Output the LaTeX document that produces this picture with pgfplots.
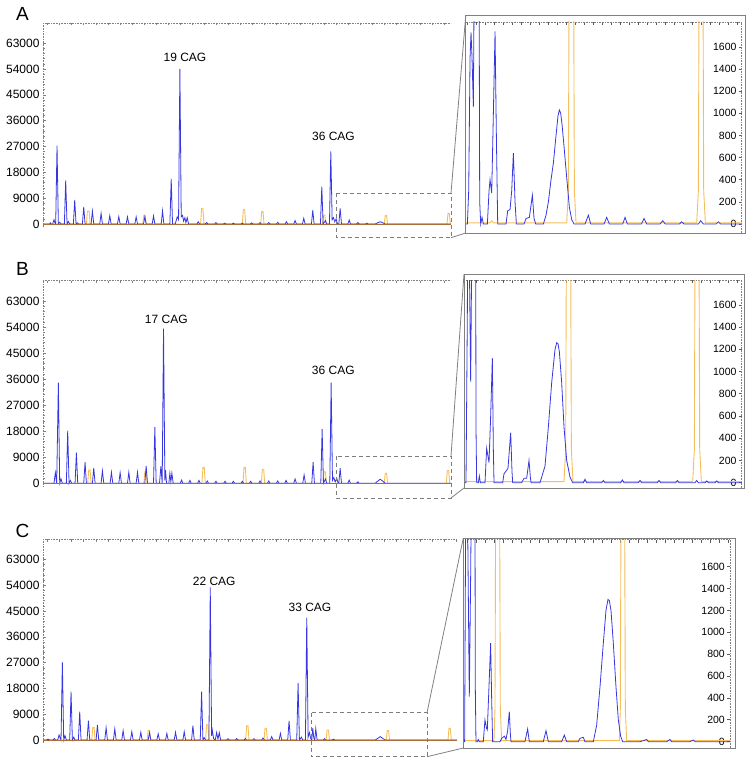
\documentclass[border=0pt]{standalone}
\usepackage{fontspec}
\setmainfont{Liberation Sans}
\usepackage{pgfplots}
\pgfplotsset{compat=1.18}
\definecolor{bl}{RGB}{55,55,225}
\definecolor{orl}{RGB}{245,190,90}
\definecolor{brn}{RGB}{170,110,60}
\definecolor{frm}{RGB}{128,128,128}
\definecolor{dsh}{RGB}{125,125,125}
\pgfplotsset{
 mainax/.style={scale only axis, anchor=north west, width=#1pt, xmin=130, ymin=-1000, ymax=70000,
   axis x line*=top, axis y line*=left, axis line style={frm, densely dotted, line width=0.6pt},
   xtick distance=36, xticklabels={}, ytick={0,9000,...,63000}, scaled y ticks=false,
   yticklabels={0,9000,18000,27000,36000,45000,54000,63000}, minor y tick num=4,
   tick align=inside, major tick length=2.5pt, minor tick length=1.5pt, tick style={frm, line width=0.5pt},
   yticklabel style={font=\fontsize{12}{13}\selectfont}},
 insetax/.style={scale only axis, anchor=north west,
   axis x line*=top, axis y line*=right, axis line style={frm, densely dotted, line width=0.6pt},
   xtick distance=27, xticklabels={}, ytick={0,200,...,1600}, scaled y ticks=false,
   yticklabels={0,200,400,600,800,1000,1200,1400,1600},
   tick align=inside, major tick length=3pt, tick style={frm!70!black, line width=0.6pt},
   yticklabel style={font=\fontsize{10.5}{12}\selectfont, anchor=east, inner sep=0pt, xshift=-5pt}},
 bline/.style={bl, line width=0.8pt, mark=none},
 oline/.style={orl, line width=0.9pt, mark=none},
}
\begin{document}
\begin{tikzpicture}[x=1pt,y=1pt]
\useasboundingbox (0,0) rectangle (750,-760);

% ================= A main =================
\begin{axis}[mainax=408, at={(43pt,-23pt)}, height=203.9pt, xmax=1352]
\addplot[oline] coordinates {(130,0)(260,0)(263,4500)(268,4500)(271,0)(429,0)(432,3100)(436,3100)(439,0)(602,0)(605,5400)(609,5400)(612,0)(727,0)(730,5000)(734,5000)(737,0)(782,0)(785,4300)(789,4300)(792,0)(967,0)(970,3100)(974,3100)(977,0)(1152,0)(1155,2900)(1159,2900)(1162,0)(1340,0)(1343,3700)(1347,3700)(1350,0)(1352,0)};
\addplot[bline] coordinates {(130,0)(150,0)(152,400)(154,0)(159,0)(163,1500)(166,300)(168,0)(172,27300)(176,0)(180,600)(185,0)(194,0)(198,15200)(202,0)(206,900)(210,0)(221,0)(225,8400)(229,0)(233,400)(237,0)(248,0)(252,6000)(256,0)(274,0)(278,4500)(282,0)(300,0)(304,3700)(308,0)(326,0)(330,2900)(334,0)(353,0)(357,2600)(361,0)(379,0)(383,2500)(387,0)(405,0)(409,2500)(413,0)(431,0)(435,2500)(439,0)(457,0)(461,2800)(465,0)(484,0)(488,4600)(492,0)(510,0)(514,15700)(518,0)(526,0)(532,2500)(536,1500)(540,54000)(544,2500)(548,3000)(551,1000)(555,2200)(558,500)(562,2200)(566,0)(591,0)(595,800)(599,0)(616,0)(620,500)(624,0)(644,0)(648,500)(652,0)(670,0)(674,300)(678,0)(696,0)(700,300)(704,0)(723,0)(727,300)(731,0)(751,0)(755,400)(759,0)(776,0)(780,500)(784,0)(802,0)(806,500)(810,0)(829,0)(833,600)(837,0)(855,0)(859,800)(863,0)(881,0)(885,1200)(889,0)(907,0)(911,2000)(915,0)(934,0)(938,4800)(942,0)(961,0)(965,13000)(969,0)(976,1200)(980,0)(988,0)(992,25300)(996,1500)(1000,2200)(1004,800)(1008,1800)(1012,0)(1016,0)(1020,5400)(1024,0)(1043,0)(1047,1400)(1051,0)(1069,0)(1073,500)(1077,0)(1096,0)(1100,300)(1104,0)(1125,0)(1132,400)(1140,800)(1148,400)(1155,0)(1352,0)};
\addplot[brn, line width=0.9pt, mark=none] coordinates {(130,0)(1352,0)};
\end{axis}

% ================= A inset =================
\begin{axis}[insetax, at={(465.7pt,-22pt)}, width=276pt, height=211pt, xmin=77, xmax=905, ymin=-81, ymax=1825]
\addplot[oline] coordinates {(77,10)(150,10)(155,30)(160,10)(380,10)(385,300)(388,3000)(400,3000)(403,300)(408,10)(770,10)(775,300)(778,3000)(788,3000)(791,300)(796,10)(905,10)};
\addplot[bline] coordinates {(77,0)(82,0)(86,300)(90,1500)(93,1730)(96,1500)(100,1060)(103,2500)(106,4000)(114,4000)(117,2500)(119,200)(122,0)(126,60)(130,0)(142,0)(147,300)(150,400)(155,280)(160,1000)(165,1740)(169,800)(173,0)(198,0)(203,120)(210,130)(215,300)(220,640)(225,200)(229,0)(252,0)(258,50)(268,60)(277,260)(282,50)(287,0)(310,0)(318,80)(325,200)(333,400)(340,550)(348,800)(354,980)(358,1030)(362,1000)(366,900)(372,700)(380,420)(388,150)(395,40)(402,0)(435,0)(445,80)(452,0)(492,0)(500,60)(508,0)(548,0)(555,60)(562,0)(604,0)(612,50)(620,0)(660,0)(668,30)(676,0)(718,0)(725,20)(732,0)(775,0)(782,30)(790,0)(828,0)(835,20)(842,0)(905,0)};
\end{axis}

% ================= B main =================
\begin{axis}[mainax=408, at={(43pt,-280.7pt)}, height=205.5pt, xmax=1352]
\addplot[oline] coordinates {(130,0)(264,0)(267,4600)(271,4600)(274,0)(432,0)(435,4000)(439,4000)(442,0)(606,0)(609,5500)(613,5500)(616,0)(729,0)(732,5500)(736,5500)(739,0)(784,0)(787,4850)(791,4850)(794,0)(969,0)(972,4000)(976,4000)(979,0)(1152,0)(1155,3460)(1159,3460)(1162,0)(1338,0)(1341,4400)(1345,4400)(1348,0)(1352,0)};
\addplot[bline] coordinates {(130,0)(163,0)(167,3700)(171,0)(176,34800)(180,0)(184,1500)(188,0)(200,0)(204,18200)(208,0)(212,1000)(216,0)(226,0)(230,10600)(234,0)(252,0)(256,7300)(260,0)(278,0)(282,5300)(286,0)(304,0)(308,4300)(312,0)(331,0)(335,3800)(339,0)(357,0)(361,3700)(365,0)(383,0)(387,3800)(391,0)(409,0)(413,3800)(417,0)(435,0)(439,6000)(443,0)(461,0)(465,19400)(469,0)(479,0)(483,5800)(487,0)(491,53400)(495,1000)(497,4600)(500,0)(507,0)(510,3500)(513,500)(516,3500)(520,0)(541,0)(545,1100)(549,0)(566,0)(570,1000)(574,0)(593,0)(597,1000)(601,0)(618,0)(622,800)(626,0)(644,0)(648,700)(652,0)(671,0)(675,700)(679,0)(696,0)(700,700)(704,0)(723,0)(727,700)(731,0)(748,0)(752,700)(756,0)(776,0)(780,800)(784,0)(802,0)(806,800)(810,0)(829,0)(833,800)(837,0)(854,0)(858,1000)(862,0)(881,0)(885,1500)(889,0)(908,0)(912,2900)(916,0)(935,0)(939,7300)(943,0)(962,0)(966,18700)(970,0)(976,1500)(980,0)(989,0)(993,34800)(997,1000)(1001,2000)(1005,500)(1010,1700)(1014,0)(1016,0)(1020,5200)(1024,0)(1043,0)(1047,1100)(1051,0)(1069,0)(1073,500)(1077,0)(1125,0)(1132,700)(1140,1400)(1148,700)(1155,0)(1352,0)};
\addplot[brn, line width=0.9pt, mark=none] coordinates {(130,0)(1352,0)};
\end{axis}

% ================= B inset =================
\begin{axis}[insetax, at={(464pt,-280pt)}, width=277.7pt, height=208pt, xmin=72, xmax=905, ymin=-48, ymax=1824]
\addplot[oline] coordinates {(72,10)(372,10)(377,300)(380,3000)(391,3000)(394,300)(399,10)(758,10)(763,300)(766,3000)(776,3000)(779,300)(784,10)(905,10)};
\addplot[bline] coordinates {(72,0)(78,0)(82,1500)(85,4000)(88,2000)(92,909)(95,2000)(98,4000)(106,4000)(108,500)(110,0)(115,0)(118,60)(121,0)(135,0)(140,310)(147,180)(152,600)(157,1120)(160,300)(162,0)(188,0)(192,80)(197,100)(204,130)(212,450)(216,100)(218,0)(245,0)(252,40)(260,40)(267,200)(271,50)(273,0)(300,0)(315,150)(325,500)(335,900)(345,1200)(350,1260)(354,1250)(358,1180)(365,900)(372,500)(380,200)(390,50)(398,0)(430,0)(435,30)(440,0)(485,0)(490,20)(495,0)(542,0)(547,25)(552,0)(595,0)(600,20)(605,0)(652,0)(657,20)(662,0)(707,0)(712,20)(717,0)(765,0)(770,20)(775,0)(795,0)(800,15)(805,0)(825,0)(830,15)(835,0)(905,0)};
\end{axis}

% ================= C main =================
\begin{axis}[mainax=414, at={(43pt,-539.3pt)}, height=203.6pt, xmax=1370]
\addplot[oline] coordinates {(130,0)(276,0)(279,4400)(283,4400)(286,0)(442,0)(445,3300)(449,3300)(452,0)(617,0)(620,5300)(624,5300)(627,0)(737,0)(740,5000)(744,5000)(747,0)(792,0)(795,4100)(799,4100)(802,0)(978,0)(981,3500)(985,3500)(988,0)(1158,0)(1161,3300)(1165,3300)(1168,0)(1343,0)(1346,4100)(1350,4100)(1353,0)(1370,0)};
\addplot[bline] coordinates {(130,0)(140,0)(145,300)(150,0)(160,0)(164,500)(168,0)(174,0)(178,1800)(182,500)(184,0)(188,27100)(192,0)(196,1500)(200,0)(210,0)(214,16900)(218,0)(222,1000)(226,0)(236,0)(240,9900)(244,0)(262,0)(266,6800)(270,0)(289,0)(293,5300)(297,0)(315,0)(319,4300)(323,0)(341,0)(345,3900)(349,0)(366,0)(370,3300)(374,0)(392,0)(396,2900)(400,0)(419,0)(423,2700)(427,0)(445,0)(449,2600)(453,0)(471,0)(475,2200)(479,0)(497,0)(501,2300)(505,0)(523,0)(527,2700)(531,0)(549,0)(553,2900)(557,0)(575,0)(579,5000)(583,0)(601,0)(605,16900)(609,0)(613,800)(617,0)(627,0)(631,53200)(635,1500)(637,3500)(641,500)(646,0)(650,2600)(654,300)(658,2600)(662,0)(680,0)(684,500)(688,0)(706,0)(710,500)(714,0)(732,0)(736,500)(740,0)(758,0)(762,500)(766,0)(785,0)(789,700)(793,0)(811,0)(815,1200)(819,0)(837,0)(841,2300)(845,0)(863,0)(867,6700)(871,0)(890,0)(894,19900)(898,0)(904,1000)(908,0)(916,0)(920,42700)(924,1000)(928,2600)(932,500)(935,0)(938,4100)(941,800)(944,0)(947,4000)(951,0)(969,0)(973,500)(977,0)(996,0)(1000,300)(1004,0)(1125,0)(1133,600)(1140,1200)(1147,600)(1155,0)(1370,0)};
\addplot[brn, line width=0.9pt, mark=none] coordinates {(130,0)(1370,0)};
\end{axis}

% ================= C inset =================
\begin{axis}[insetax, at={(463.3pt,-539.5pt)}, width=266.7pt, height=208.5pt, xmin=70, xmax=870, ymin=-58, ymax=1848]
\addplot[oline] coordinates {(70,10)(162,10)(165,300)(168,3000)(178,3000)(181,300)(185,10)(538,10)(541,300)(544,3000)(553,3000)(556,300)(560,10)(870,10)};
\addplot[bline] coordinates {(70,0)(74,0)(77,2000)(79,4000)(83,2000)(88,412)(92,1500)(99,4000)(104,4000)(106,500)(108,0)(112,0)(115,20)(118,0)(130,0)(135,198)(140,120)(142,107)(147,500)(152,900)(155,400)(158,0)(180,0)(185,30)(193,50)(198,20)(203,100)(208,275)(211,80)(213,0)(255,0)(263,116)(268,0)(310,0)(318,100)(325,0)(365,0)(373,60)(380,0)(415,0)(420,30)(430,40)(435,0)(460,0)(470,150)(480,500)(490,900)(498,1200)(504,1300)(508,1290)(513,1200)(520,900)(528,500)(535,200)(542,50)(548,0)(600,0)(620,20)(625,0)(680,0)(690,20)(695,0)(750,0)(760,15)(765,0)(870,0)};
\end{axis}

% ================= frames, zoom boxes, connectors =================
\draw[frm, line width=1pt] (465.7,-16) rectangle (745.3,-233);
\draw[frm, line width=1pt] (464,-274) rectangle (744,-488);
\draw[frm, line width=1pt] (463.3,-538) rectangle (735,-748);

\draw[dsh, line width=1pt, dash pattern=on 4pt off 3pt] (336,-193.3) rectangle (451,-237.7);
\draw[dsh, line width=1pt, dash pattern=on 4pt off 3pt] (336,-456) rectangle (451,-498);
\draw[dsh, line width=1pt, dash pattern=on 4pt off 3pt] (311,-712.7) rectangle (427,-756.7);

\draw[frm, line width=0.8pt] (451,-193.3) -- (465.7,-16) (451,-237.7) -- (465.7,-233);
\draw[frm, line width=0.8pt] (451,-456) -- (464,-274) (451,-498) -- (464,-488);
\draw[frm, line width=0.8pt] (427,-712.7) -- (463.3,-538) (427,-756.7) -- (463.3,-748);

% ================= labels =================
\node[font=\fontsize{19}{21}\selectfont] at (22.5,-13.5) {A};
\node[font=\fontsize{19}{21}\selectfont] at (22.5,-269) {B};
\node[font=\fontsize{19}{21}\selectfont] at (22.5,-530.5) {C};

\node[font=\fontsize{12}{13}\selectfont] at (185,-57) {19 CAG};
\node[font=\fontsize{12}{13}\selectfont] at (333.5,-136) {36 CAG};
\node[font=\fontsize{12}{13}\selectfont] at (166.3,-319) {17 CAG};
\node[font=\fontsize{12}{13}\selectfont] at (333.3,-370) {36 CAG};
\node[font=\fontsize{12}{13}\selectfont] at (214.2,-581.7) {22 CAG};
\node[font=\fontsize{12}{13}\selectfont] at (310,-607.7) {33 CAG};
\end{tikzpicture}
\end{document}
